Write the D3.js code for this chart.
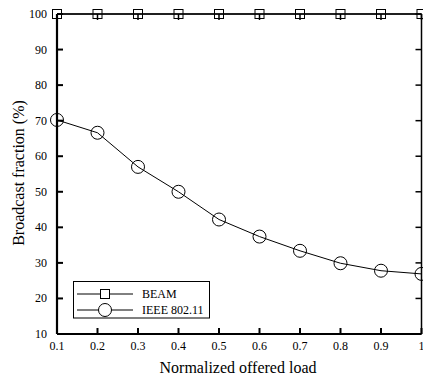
<!DOCTYPE html>
<html>
<head>
<meta charset="utf-8">
<script src="https://cdn.jsdelivr.net/npm/d3@7"></script>
<style>
  body { margin: 0; background: #fff; }
  svg { display: block; font-family: "Liberation Serif", "Times New Roman", serif; }
</style>
</head>
<body>
<svg id="chart" width="423" height="381"></svg>
<script>
const loads = [0.1, 0.2, 0.3, 0.4, 0.5, 0.6, 0.7, 0.8, 0.9, 1.0];
const beam = [100, 100, 100, 100, 100, 100, 100, 100, 100, 100];
const ieee = [70.2, 66.6, 57.0, 50.0, 42.2, 37.4, 33.4, 29.9, 27.8, 26.9];
const xTicks = [0.1, 0.2, 0.3, 0.4, 0.5, 0.6, 0.7, 0.8, 0.9, 1];
const yTicks = [10, 20, 30, 40, 50, 60, 70, 80, 90, 100];

const svg = d3.select("#chart");
const pL = 57, pR = 421.5, pT = 14, pB = 334;

const x = d3.scaleLinear().domain([0.1, 1]).range([pL, pR]);
const y = d3.scaleLinear().domain([10, 100]).range([pB, pT]);

// ticks (inside)
const tickLen = 6;
const g = svg.append("g").attr("stroke", "#000");
yTicks.forEach(t => {
  g.append("line").attr("x1", pL).attr("x2", pL + tickLen).attr("y1", y(t)).attr("y2", y(t)).attr("stroke-width", 2);
  g.append("line").attr("x1", pR).attr("x2", pR - tickLen).attr("y1", y(t)).attr("y2", y(t)).attr("stroke-width", 1.5);
});
xTicks.forEach(t => {
  g.append("line").attr("x1", x(t)).attr("x2", x(t)).attr("y1", pB).attr("y2", pB - tickLen).attr("stroke-width", 2);
  g.append("line").attr("x1", x(t)).attr("x2", x(t)).attr("y1", pT).attr("y2", pT + tickLen).attr("stroke-width", 1.5);
});

// frame
svg.append("line").attr("x1", pL).attr("x2", pL).attr("y1", pT).attr("y2", pB).attr("stroke", "#000").attr("stroke-width", 2.2);
svg.append("line").attr("x1", pL).attr("x2", pR).attr("y1", pB).attr("y2", pB).attr("stroke", "#000").attr("stroke-width", 2.2);
svg.append("line").attr("x1", pL).attr("x2", pR).attr("y1", pT).attr("y2", pT).attr("stroke", "#000").attr("stroke-width", 1.5);
svg.append("line").attr("x1", pR).attr("x2", pR).attr("y1", pT).attr("y2", pB).attr("stroke", "#000").attr("stroke-width", 1.5);

// tick labels
svg.append("g").selectAll("text").data(yTicks).join("text")
  .attr("x", pL - 10).attr("y", d => y(d) + 4)
  .attr("text-anchor", "end").attr("font-size", 12).text(d => d);
svg.append("g").selectAll("text").data(xTicks).join("text")
  .attr("x", d => x(d)).attr("y", pB + 16)
  .attr("text-anchor", "middle").attr("font-size", 12).text(d => d);

// axis titles
svg.append("text").attr("x", 238).attr("y", 373)
  .attr("text-anchor", "middle").attr("font-size", 16).text("Normalized offered load");
svg.append("text").attr("transform", `translate(24,173) rotate(-90)`)
  .attr("text-anchor", "middle").attr("font-size", 16).text("Broadcast fraction (%)");

const line = d3.line().x((d, i) => x(loads[i])).y(d => y(d));

// BEAM
svg.append("path").datum(beam).attr("d", line).attr("fill", "none").attr("stroke", "#000").attr("stroke-width", 1.2);
svg.append("g").selectAll("rect").data(beam).join("rect")
  .attr("x", (d, i) => x(loads[i]) - 4.5).attr("y", d => y(d) - 4.5)
  .attr("width", 9).attr("height", 9).attr("fill", "none").attr("stroke", "#000").attr("stroke-width", 1);

// IEEE 802.11
svg.append("path").datum(ieee).attr("d", line).attr("fill", "none").attr("stroke", "#000").attr("stroke-width", 1);
svg.append("g").selectAll("circle").data(ieee).join("circle")
  .attr("cx", (d, i) => x(loads[i])).attr("cy", d => y(d)).attr("r", 6.5)
  .attr("fill", "none").attr("stroke", "#000").attr("stroke-width", 1);

// legend
const lg = svg.append("g");
lg.append("rect").attr("x", 73.5).attr("y", 281.5).attr("width", 136).attr("height", 36.5)
  .attr("fill", "#fff").attr("stroke", "#000").attr("stroke-width", 1);
const rows = [{ name: "BEAM", sym: "square", yy: 294 }, { name: "IEEE 802.11", sym: "circle", yy: 310 }];
rows.forEach(r => {
  lg.append("line").attr("x1", 77).attr("x2", 133).attr("y1", r.yy).attr("y2", r.yy).attr("stroke", "#000").attr("stroke-width", 1);
  if (r.sym === "square") {
    lg.append("rect").attr("x", 105 - 4.5).attr("y", r.yy - 4.5).attr("width", 9).attr("height", 9)
      .attr("fill", "#fff").attr("stroke", "#000");
  } else {
    lg.append("circle").attr("cx", 105).attr("cy", r.yy).attr("r", 6.5).attr("fill", "#fff").attr("stroke", "#000");
  }
  lg.append("text").attr("x", 142).attr("y", r.yy + 4).attr("font-size", 12).text(r.name);
});
</script>
</body>
</html>
